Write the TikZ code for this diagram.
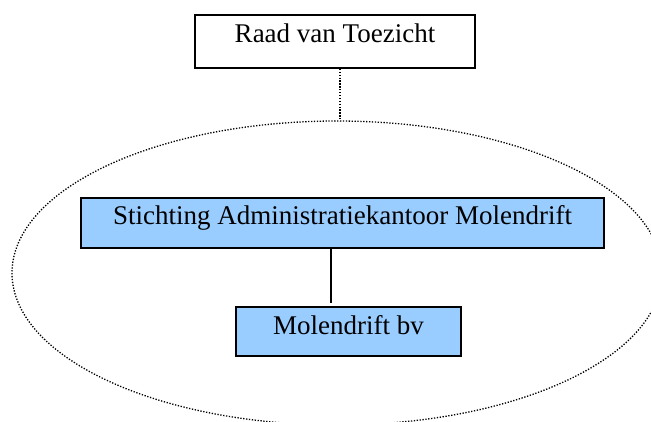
\documentclass[tikz,border=0pt]{standalone}
\usepackage{fontspec}
\setmainfont{Liberation Serif}
\usetikzlibrary{shapes.geometric}
\definecolor{vakblauw}{HTML}{99CCFF}
\begin{document}
\begin{tikzpicture}[x=1pt,y=-1pt,
    vak/.style={draw=black,line width=1.6pt,inner sep=0pt,font=\fontsize{27}{30}\selectfont},
    stip/.style={line width=1.3pt,dash pattern=on 1.3pt off 1.6pt}]
  \useasboundingbox (0,0) rectangle (651,421);
  \clip (0,0) rectangle (651,421);
  \node[ellipse,stip,draw,minimum width=650pt,minimum height=304pt,inner sep=0pt] (kring) at (337,273) {};
  \node[vak,minimum width=280pt,text height=27pt,text depth=26pt] (raad) at (335,41.5) {Raad van Toezicht};
  \node[vak,fill=vakblauw,minimum width=523pt,text height=26pt,text depth=24pt] (stak) at (342.5,223) {Stichting Administratiekantoor Molendrift};
  \node[vak,fill=vakblauw,minimum width=225pt,text height=27pt,text depth=22pt] (bv) at (348.5,331.5) {Molendrift bv};
  \coordinate (top) at (340,121);
  \coordinate (lijn) at (331,303);
  \draw[stip] (raad.south -| top) -- (top);
  \draw[line width=1.6pt] (stak.south -| lijn) -- (lijn);
\end{tikzpicture}
\end{document}
